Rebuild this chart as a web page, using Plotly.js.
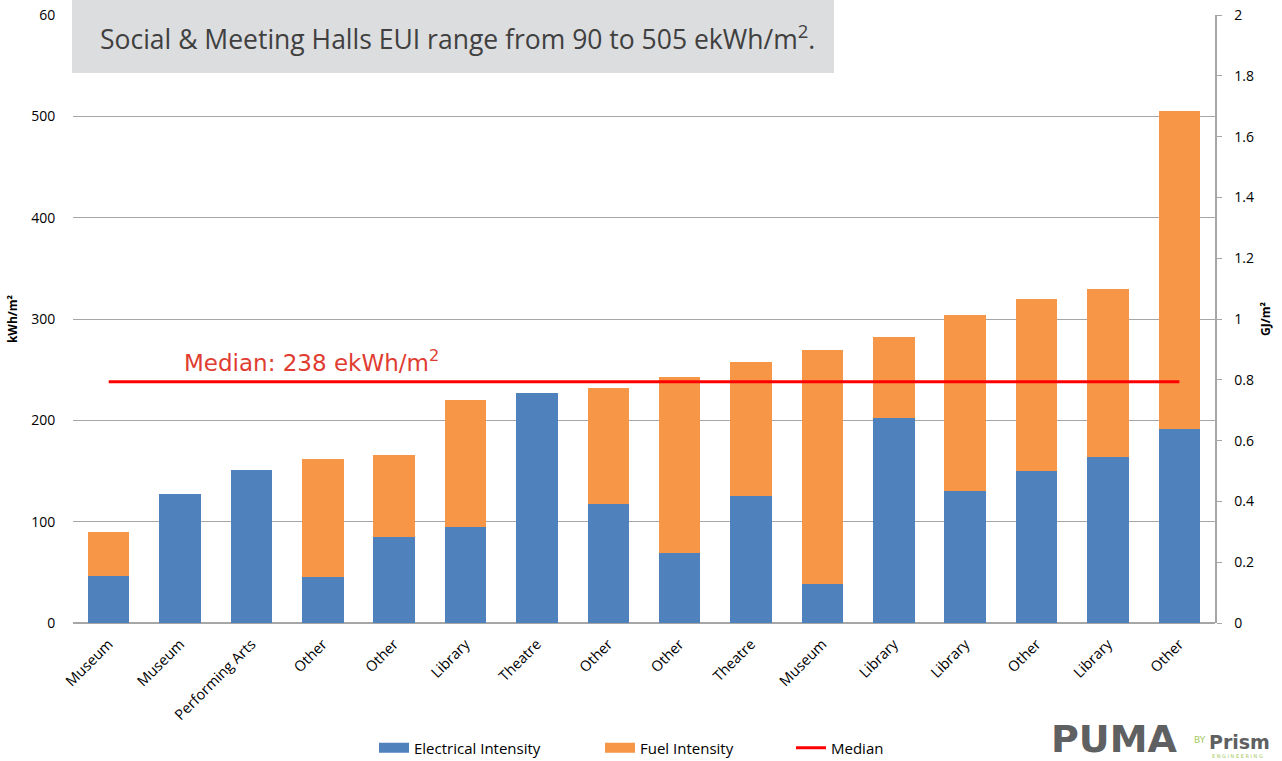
<!DOCTYPE html>
<html>
<head>
<meta charset="utf-8">
<script src="https://cdn.plot.ly/plotly-3.0.1.min.js"></script>
<style>html,body{margin:0;padding:0;background:#fff;}#chart{width:1282px;height:761px;}</style>
</head>
<body>
<div id="chart"></div>
<script>
const categories = ["Museum","Museum","Performing Arts","Other","Other","Library","Theatre","Other","Other","Theatre","Museum","Library","Library","Other","Library","Other"];
const electrical = [46,127,151,45,85,95,227,117,69,125,38,202,130,150,164,191];
const fuel = [44,0,0,117,81,125,0,115,174,133,231,80,174,170,166,314];
const medianValue = 238;
const leftTicks = [0,100,200,300,400,500,600];
const leftTickText = ["0","100","200","300","400","500","60"];
const rightTicks = [0,0.2,0.4,0.6,0.8,1,1.2,1.4,1.6,1.8,2];

const idx = categories.map((c,i)=>i);
const medianX = [idx[0], idx[idx.length-1]];
const medianY = [medianValue, medianValue];

const font = "'Open Sans', 'Noto Sans', sans-serif";
const PX = v => (v-73)/1142;      // pixel x -> paper
const PY = v => (623-v)/608;      // pixel y -> paper

const traces = [
  {type:'bar', name:'Electrical Intensity', x:idx, y:electrical, marker:{color:'#4f81bd'}, showlegend:false, hoverinfo:'skip'},
  {type:'bar', name:'Fuel Intensity', x:idx, y:fuel, marker:{color:'#f79646'}, showlegend:false, hoverinfo:'skip'},
  {type:'scatter', mode:'lines', name:'Median', x:medianX, y:medianY, line:{color:'#ff0000', width:3}, legend:'legend3', hoverinfo:'skip'},
  // legend swatches for the bar series (wide rectangles like the reference)
  {type:'scatter', mode:'lines', name:'Electrical Intensity', x:[null], y:[null], line:{color:'#4f81bd', width:10}, legend:'legend', hoverinfo:'skip'},
  {type:'scatter', mode:'lines', name:'Fuel Intensity', x:[null], y:[null], line:{color:'#f79646', width:10}, legend:'legend2', hoverinfo:'skip'},
  {type:'scatter', mode:'none', x:[0], y:[0], yaxis:'y2', showlegend:false, hoverinfo:'skip'}
];

const legendBase = {orientation:'h', yanchor:'middle', y:PY(748), xanchor:'left', font:{size:15, family:font, color:'#000'}, bgcolor:'rgba(0,0,0,0)'};

const layout = {
  width:1282, height:761,
  margin:{l:73, r:67, t:15, b:138, autoexpand:false},
  paper_bgcolor:'#ffffff', plot_bgcolor:'#ffffff',
  barmode:'stack', bargap:0.42,
  font:{family:font, color:'#000', size:13},
  showlegend:true,
  legend:Object.assign({}, legendBase, {x:PX(374)}),
  legend2:Object.assign({}, legendBase, {x:PX(600)}),
  legend3:Object.assign({}, legendBase, {x:PX(791)}),
  xaxis:{
    range:[-0.5,15.5], tickvals:idx, ticktext:categories, tickangle:-45,
    showgrid:false, zeroline:false, showline:false, ticks:'outside', ticklen:6, tickcolor:'rgba(0,0,0,0)',
    tickfont:{size:14.5, family:font, color:'#000'}
  },
  yaxis:{
    range:[0,600], tickvals:leftTicks, ticktext:leftTickText,
    showgrid:true, gridcolor:'#a6a6a6', gridwidth:1,
    zeroline:true, zerolinecolor:'#a6a6a6', zerolinewidth:2,
    showline:false, ticks:'outside', ticklen:14, tickcolor:'rgba(0,0,0,0)',
    tickfont:{size:14, family:font, color:'#000'},
    title:{text:'kWh/m²', font:{size:12, family:font, color:'#000', weight:'bold'}, standoff:10}
  },
  yaxis2:{
    range:[0,2], overlaying:'y', side:'right', tickvals:rightTicks,
    showgrid:false, zeroline:false, showline:true, linecolor:'#a6a6a6', linewidth:1.5,
    ticks:'outside', ticklen:5, tickcolor:'#a6a6a6', ticklabelstandoff:10,
    tickfont:{size:14, family:font, color:'#000'},
    title:{text:'GJ/m²', font:{size:12, family:font, color:'#000', weight:'bold'}, standoff:8}
  },
  shapes:[
    {type:'rect', xref:'paper', yref:'paper', x0:PX(72), x1:PX(834), y0:PY(73), y1:PY(-5), fillcolor:'#dcdddf', line:{width:0}, layer:'above'}
  ],
  annotations:[
    {xref:'paper', yref:'paper', x:PX(98), y:PY(37), xanchor:'left', yanchor:'middle', showarrow:false,
     text:'Social &amp; Meeting Halls EUI range from 90 to 505 ekWh/m<sup>2</sup>.', font:{size:26.5, family:font, color:'#404040'}},
    {xref:'paper', yref:'y', x:PX(182), y:medianValue, xanchor:'left', yanchor:'bottom', yshift:4, showarrow:false,
     text:'Median: 238 ekWh/m<sup>2</sup>', font:{size:23, family:"'DejaVu Sans', sans-serif", color:'#e03c31'}},
    {xref:'paper', yref:'paper', x:PX(1050), y:PY(739), xanchor:'left', yanchor:'middle', showarrow:false, height:40, borderpad:0,
     text:'<b>PUMA</b>', font:{size:38, family:"'DejaVu Sans', sans-serif", color:'#5f6062'}},
    {xref:'paper', yref:'paper', x:PX(1192), y:PY(740), xanchor:'left', yanchor:'middle', showarrow:false,
     text:'BY', font:{size:9, family:"'DejaVu Sans', sans-serif", color:'#a5c85a'}},
    {xref:'paper', yref:'paper', x:PX(1207), y:PY(742), xanchor:'left', yanchor:'middle', showarrow:false,
     text:'<b>Prism</b>', font:{size:19, family:"'DejaVu Sans', sans-serif", color:'#5f6062'}},
    {xref:'paper', yref:'paper', x:PX(1210), y:PY(756), xanchor:'left', yanchor:'middle', showarrow:false,
     text:'E N G I N E E R I N G', font:{size:5, family:"'DejaVu Sans', sans-serif", color:'#a5c85a'}}
  ]
};

Plotly.newPlot('chart', traces, layout, {displayModeBar:false, staticPlot:true});
</script>
</body>
</html>
